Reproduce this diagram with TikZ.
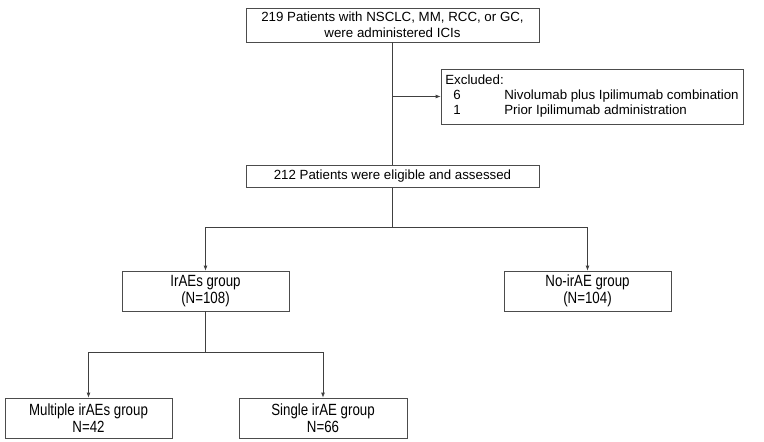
\documentclass[tikz,border=0pt]{standalone}
\usepackage{fontspec}
\setmainfont{Liberation Sans}
\newfontfamily\narrowfont[FakeStretch=0.82]{Liberation Sans}
\usetikzlibrary{arrows.meta}

\begin{document}
\begin{tikzpicture}[x=1pt, y=-1pt,
    box/.style={draw=black!70, line width=0.8pt, inner sep=0pt, align=center,
      font=\fontsize{13.3}{16}\selectfont},
    group/.style={box, minimum width=167pt, minimum height=40pt,
      font=\narrowfont\fontsize{16.2}{17}\selectfont},
    arr/.style={draw=black!75, line width=0.8pt, -{Latex[length=5pt,width=4pt]}},
    line/.style={draw=black!75, line width=0.8pt}]
  \useasboundingbox (0,0) rectangle (764,442);

  % boxes
  \node[box, minimum width=293pt, minimum height=34pt] (start) at (392.5,25)
    {219 Patients with NSCLC, MM, RCC, or GC,\\ were administered ICIs};
  \node[box, align=left, minimum width=302pt, minimum height=55pt,
    font=\fontsize{13.3}{15}\selectfont] (excl) at (592,96.5)
    {Excluded:\\
     \makebox[59pt][l]{\hspace{8pt}6}Nivolumab plus Ipilimumab combination\\
     \makebox[59pt][l]{\hspace{8pt}1}Prior Ipilimumab administration};
  \node[box, minimum width=293pt, minimum height=22pt] (elig) at (392.5,176.5)
    {212 Patients were eligible and assessed};
  \node[group] (irae) at (205.5,291) {IrAEs group\\ (N=108)};
  \node[group] (noirae) at (587.5,291) {No-irAE group\\ (N=104)};
  \node[group] (multi) at (88.5,418) {Multiple irAEs group\\ N=42};
  \node[group, minimum width=168pt] (single) at (323,418) {Single irAE group\\ N=66};

  % forks
  \coordinate (fork1) at (392.5,227);
  \coordinate (fork2) at (205.5,352);

  % connectors
  \draw[line] (start) -- (elig);
  \draw[arr] (start.south |- excl.west) -- (excl.west);
  \draw[line] (elig) -- (fork1);
  \draw[arr] (fork1) -| (irae);
  \draw[arr] (fork1) -| (noirae);
  \draw[line] (irae) -- (fork2);
  \draw[arr] (fork2) -| (multi);
  \draw[arr] (fork2) -| (single);
\end{tikzpicture}
\end{document}
